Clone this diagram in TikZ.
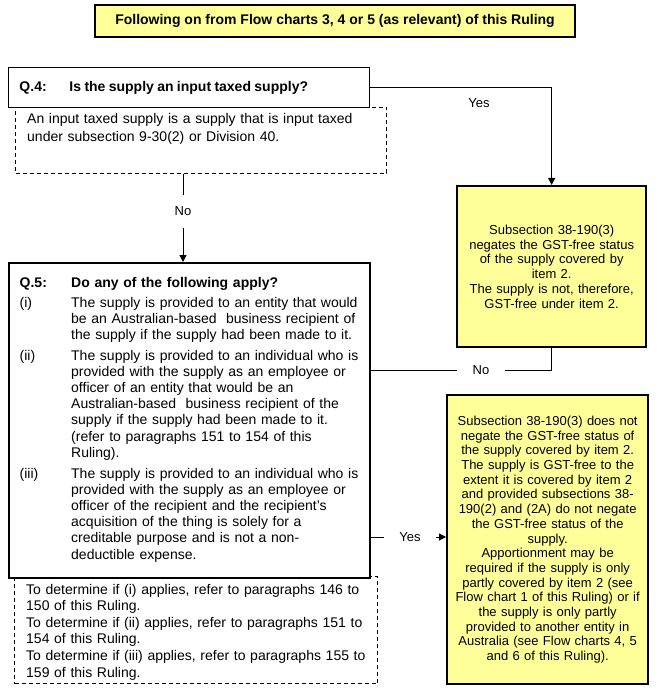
\documentclass[tikz,border=0pt]{standalone}
\usepackage{fontspec}
\setmainfont{Liberation Sans}
\usetikzlibrary{arrows.meta}
\definecolor{boxyellow}{HTML}{FFFF99}
\tikzset{
  connector/.style={line width=1pt, draw=black},
  arrowc/.style={connector, -{Triangle[length=7pt,width=7pt]}},
  titlebox/.style={draw, line width=2.5pt, fill=boxyellow, inner sep=0pt},
  qbox/.style={draw, line width=1pt, fill=white},
  qboxthick/.style={draw, line width=2.2pt, fill=white},
  notebox/.style={draw, dash pattern=on 4pt off 3pt, line width=1pt, fill=white, inner sep=0pt},
  ybox/.style={draw, line width=2.3pt, fill=boxyellow, align=center, inner sep=0pt},
  lab/.style={font=\fontsize{13}{15}\selectfont, inner sep=0pt},
  bodytext/.style={anchor=base west, inner sep=0pt, align=left}
}
\begin{document}
\begin{tikzpicture}[x=1pt,y=-1pt]
\fill[white] (0,0) rectangle (666,700);
\useasboundingbox (0,0) rectangle (666,700);

% title
\node[titlebox, minimum width=480pt, minimum height=32pt] (title) at (335,21)
  {\fontsize{14}{16}\selectfont\bfseries Following on from Flow charts 3, 4 or 5 (as relevant) of this Ruling};

% Q.4 and note
\node[notebox, anchor=north west, minimum width=371pt, minimum height=66pt] (note1) at (15,107) {};
\node[qbox, anchor=north west, minimum width=361pt, minimum height=40pt, inner xsep=11pt, inner ysep=0pt, text width=339pt, align=left] (q4) at (8,67)
  {\fontsize{14}{16}\selectfont\bfseries\makebox[50pt][l]{Q.4:}Is the supply an input taxed supply?};
\node[bodytext, text width=350pt, font=\fontsize{14}{18}\selectfont] (note1txt) at (27,124)
  {An input taxed supply is a supply that is input taxed\\under subsection 9-30(2) or Division 40.};

% Q.5 and note
\node[notebox, anchor=north west, minimum width=363pt, minimum height=107pt] (note2) at (14,576) {};
\node[qboxthick, anchor=north west, minimum width=361pt, minimum height=315pt, inner sep=0pt] (q5) at (8,262) {};
\node[bodytext, text width=345pt, font=\fontsize{14}{16.2}\selectfont] (q5txt) at (19.5,287)
  {\makebox[51.5pt][l]{\bfseries Q.5:}\textbf{Do any of the following apply?}\\[3.8pt]
   \makebox[51.5pt][l]{(i)}The supply is provided to an entity that would\\
   \hspace*{51.5pt}be an Australian-based~ business recipient of\\
   \hspace*{51.5pt}the supply if the supply had been made to it.\\[4.4pt]
   \makebox[51.5pt][l]{(ii)}The supply is provided to an individual who is\\
   \hspace*{51.5pt}provided with the supply as an employee or\\
   \hspace*{51.5pt}officer of an entity that would be an\\
   \hspace*{51.5pt}Australian-based~ business recipient of the\\
   \hspace*{51.5pt}supply if the supply had been made to it.\\
   \hspace*{51.5pt}(refer to paragraphs 151 to 154 of this\\
   \hspace*{51.5pt}Ruling).\\[4.6pt]
   \makebox[51.5pt][l]{(iii)}The supply is provided to an individual who is\\
   \hspace*{51.5pt}provided with the supply as an employee or\\
   \hspace*{51.5pt}officer of the recipient and the recipient's\\
   \hspace*{51.5pt}acquisition of the thing is solely for a\\
   \hspace*{51.5pt}creditable purpose and is not a non-\\
   \hspace*{51.5pt}deductible expense.};
\node[bodytext, text width=350pt, font=\fontsize{14}{16.6}\selectfont] (note2txt) at (26,594)
  {To determine if (i) applies, refer to paragraphs 146 to\\
   150 of this Ruling.\\
   To determine if (ii) applies, refer to paragraphs 151 to\\
   154 of this Ruling.\\
   To determine if (iii) applies, refer to paragraphs 155 to\\
   159 of this Ruling.};

% result boxes
\node[ybox, anchor=north west, minimum width=189pt, minimum height=161pt, text width=185pt, font=\fontsize{13}{14.85}\selectfont] (res1) at (456,185)
  {Subsection 38-190(3)\\negates the GST-free status\\of the supply covered by\\item 2.\\The supply is not, therefore,\\GST-free under item 2.};
\node[ybox, anchor=north west, minimum width=201pt, minimum height=289pt, text width=197pt, font=\fontsize{13}{14.69}\selectfont] (res2) at (446,394)
  {Subsection 38-190(3) does not\\negate the GST-free status of\\the supply covered by item 2.\\The supply is GST-free to the\\extent it is covered by item 2\\and provided subsections 38-\\190(2) and (2A) do not negate\\the GST-free status of the\\supply.\\Apportionment may be\\required if the supply is only\\partly covered by item 2 (see\\Flow chart 1 of this Ruling) or if\\the supply is only partly\\provided to another entity in\\Australia (see Flow charts 4, 5\\and 6 of this Ruling).};

% connectors
\draw[arrowc] (q4.east) -| (res1.north);
\node[lab] (yes1) at (479,103) {Yes};

\node[lab, minimum height=33pt] (no1) at (183,211.5) {No};
\draw[connector] (no1.north |- note1.south) -- (no1.north);
\draw[arrowc] (no1.south) -- (no1.south |- q5.north);

\node[lab, minimum width=48pt] (no2) at (481,370) {No};
\draw[connector] (res1.south) |- (no2.east);
\draw[connector] (no2.west) -- (no2.west -| q5.east);

\node[lab, minimum width=51pt] (yes2) at (410,537) {Yes};
\draw[connector] (yes2.west -| q5.east) -- (yes2.west);
\draw[arrowc] (yes2.east) -- (yes2.east -| res2.west);
\end{tikzpicture}
\end{document}
